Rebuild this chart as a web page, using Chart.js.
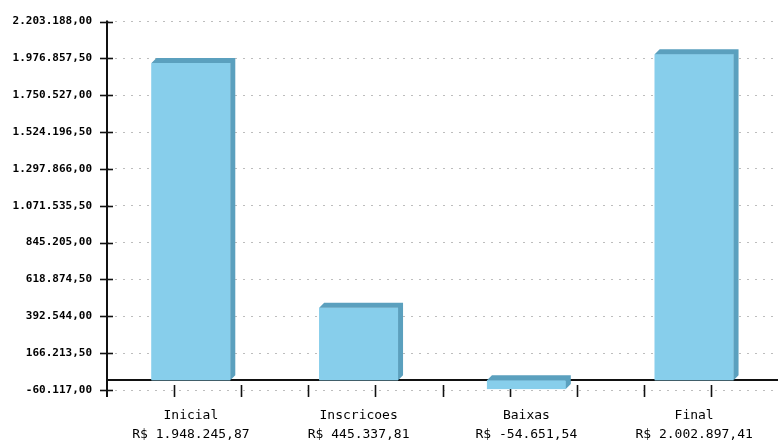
<!DOCTYPE html>
<html>
<head>
<meta charset="utf-8">
<script src="https://cdn.jsdelivr.net/npm/chart.js@4.4.1/dist/chart.umd.min.js"></script>
<style>
  html, body { margin: 0; padding: 0; background: #ffffff; }
  #wrap { width: 778px; height: 444px; position: relative; }
</style>
</head>
<body>
<div id="wrap"><canvas id="c" width="778" height="444"></canvas></div>
<script>
const categories = ['Inicial', 'Inscricoes', 'Baixas', 'Final'];
const values = [1948245.87, 445337.81, -54651.54, 2002897.41];
const yTicks = [-60117, 166213.5, 392544, 618874.5, 845205, 1071535.5, 1297866, 1524196.5, 1750527, 1976857.5, 2203188];

function fmtBR(v) {
  const neg = v < 0;
  let parts = Math.abs(v).toFixed(2).split('.');
  let i = parts[0].replace(/\B(?=(\d{3})+(?!\d))/g, '.');
  return (neg ? '-' : '') + i + ',' + parts[1];
}

const FRONT = '#87CEEB';
const SIDE = '#5BA0BE';
const DEPTH = 5;

const decor = {
  id: 'decor',
  beforeDatasetsDraw(chart) {
    const ctx = chart.ctx;
    const a = chart.chartArea;
    const ys = chart.scales.y;
    ctx.save();
    ctx.strokeStyle = '#111';
    ctx.lineWidth = 2;
    // zero line
    const y0 = Math.round(ys.getPixelForValue(0));
    ctx.beginPath();
    ctx.moveTo(a.left, y0);
    ctx.lineTo(a.right, y0);
    ctx.stroke();
    // y axis line
    ctx.beginPath();
    ctx.moveTo(a.left, a.top - 1);
    ctx.lineTo(a.left, a.bottom + 7);
    ctx.stroke();
    // y tick marks
    ctx.lineWidth = 1.6;
    ys.ticks.forEach(t => {
      const py = Math.round(ys.getPixelForValue(t.value)) + 0.5;
      ctx.beginPath();
      ctx.moveTo(a.left - 7, py);
      ctx.lineTo(a.left + 6, py);
      ctx.stroke();
    });
    ctx.restore();
  },
  afterDatasetsDraw(chart) {
    const ctx = chart.ctx;
    const a = chart.chartArea;
    const meta = chart.getDatasetMeta(0);
    ctx.save();
    // x tick marks (ten equal divisions of the plot width)
    ctx.strokeStyle = '#111';
    ctx.lineWidth = 1.6;
    const step = (a.right - a.left) / 10;
    for (let k = 1; k < 10; k++) {
      const px = Math.round(a.left + k * step) + 0.5;
      ctx.beginPath();
      ctx.moveTo(px, a.bottom - 5);
      ctx.lineTo(px, a.bottom + 7);
      ctx.stroke();
    }
    // bars redrawn on top of the ticks, then their 3D faces
    meta.data.forEach(bar => {
      const p = bar.getProps(['x', 'y', 'base', 'width'], true);
      const l = p.x - p.width / 2, r = p.x + p.width / 2;
      const top = Math.min(p.y, p.base), bot = Math.max(p.y, p.base);
      const d = DEPTH;
      ctx.fillStyle = FRONT;
      ctx.fillRect(l, top, r - l, bot - top);
      ctx.fillStyle = SIDE;
      ctx.beginPath();
      ctx.moveTo(l, top);
      ctx.lineTo(l + d, top - d);
      ctx.lineTo(r + d, top - d);
      ctx.lineTo(r + d, bot - d);
      ctx.lineTo(r, bot);
      ctx.lineTo(r, top);
      ctx.closePath();
      ctx.fill();
    });
    ctx.restore();
  }
};

new Chart(document.getElementById('c'), {
  type: 'bar',
  data: {
    labels: categories.map((c, i) => [c, 'R$ ' + fmtBR(values[i])]),
    datasets: [{
      data: values,
      backgroundColor: FRONT,
      borderWidth: 0,
      barPercentage: 0.47,
      categoryPercentage: 1.0
    }]
  },
  plugins: [decor],
  options: {
    responsive: false,
    animation: false,
    devicePixelRatio: 1,
    layout: { padding: { top: 19, right: -4, left: 0, bottom: 0 } },
    plugins: { legend: { display: false }, tooltip: { enabled: false } },
    scales: {
      x: {
        type: 'category',
        grid: { display: false, drawTicks: false },
        border: { display: false },
        ticks: {
          color: '#000',
          font: { family: 'DejaVu Sans Mono', size: 13, lineHeight: 1.4 },
          padding: 17,
          maxRotation: 0,
          autoSkip: false
        },
        afterFit: s => { s.height = 54; }
      },
      y: {
        min: -60117,
        max: 2203188,
        afterBuildTicks: s => { s.ticks = yTicks.map(v => ({ value: v })); },
        grid: { color: '#bdbdbd', lineWidth: 1, drawTicks: false },
        border: { display: false, dash: [2, 6] },
        ticks: {
          color: '#000',
          font: { family: 'DejaVu Sans Mono', size: 11, weight: 'bold' },
          padding: 15,
          autoSkip: false,
          callback: v => fmtBR(v)
        },
        afterFit: s => { s.width = 107; }
      }
    }
  }
});
</script>
</body>
</html>
